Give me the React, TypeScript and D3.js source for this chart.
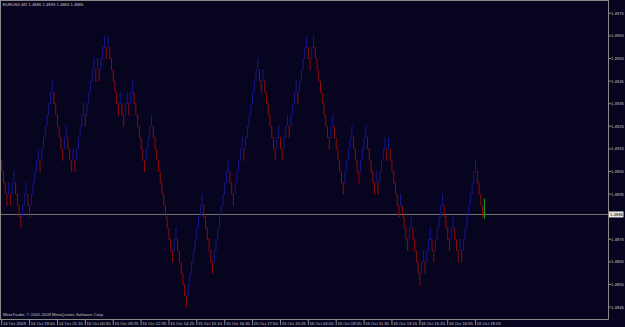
import React from "react";
import * as d3 from "d3";

// ---- data (renko-style bars, box = 5 pips) ----
const symbolTitle = "EURUSD,M2";
const liveBar = { open: 1.4886, high: 1.4893, low: 1.4884, close: 1.4886 };
const boxSize = 0.0005;
const firstOpen = 1.491;
const closes = [
  1.4905, 1.49, 1.4895, 1.489, 1.49, 1.489, 1.49, 1.4905, 1.4895, 1.489,
  1.4885, 1.488, 1.489, 1.4895, 1.49, 1.489, 1.4885, 1.4895, 1.49, 1.4905,
  1.491, 1.4915, 1.4905, 1.4915, 1.492, 1.4925, 1.493, 1.4935, 1.494, 1.4945,
  1.4935, 1.493, 1.4925, 1.492, 1.4915, 1.491, 1.492, 1.4925, 1.4915, 1.491,
  1.4905, 1.4915, 1.4905, 1.4915, 1.492, 1.4925, 1.493, 1.4935, 1.4925, 1.4935,
  1.494, 1.4945, 1.495, 1.4955, 1.4945, 1.4955, 1.4945, 1.4955, 1.496, 1.4965,
  1.4955, 1.4965, 1.4955, 1.495, 1.4945, 1.494, 1.4935, 1.493, 1.494, 1.493,
  1.4925, 1.4935, 1.494, 1.493, 1.494, 1.4945, 1.4935, 1.493, 1.4925, 1.492,
  1.4915, 1.491, 1.4905, 1.4915, 1.492, 1.4925, 1.493, 1.492, 1.4915, 1.491,
  1.4905, 1.49, 1.4895, 1.489, 1.4885, 1.488, 1.4875, 1.487, 1.4865, 1.4875,
  1.488, 1.487, 1.4865, 1.486, 1.4855, 1.485, 1.4845, 1.4855, 1.486, 1.4865,
  1.487, 1.4875, 1.488, 1.4885, 1.489, 1.4895, 1.4885, 1.488, 1.4875, 1.487,
  1.4865, 1.486, 1.487, 1.4875, 1.488, 1.4885, 1.489, 1.4895, 1.49, 1.4905,
  1.491, 1.49, 1.4895, 1.489, 1.49, 1.4905, 1.491, 1.4915, 1.492, 1.491,
  1.492, 1.4925, 1.493, 1.4935, 1.494, 1.4945, 1.495, 1.4955, 1.4945, 1.494,
  1.495, 1.494, 1.4935, 1.493, 1.4925, 1.492, 1.4915, 1.491, 1.492, 1.4925,
  1.4915, 1.491, 1.492, 1.4925, 1.493, 1.492, 1.493, 1.4935, 1.494, 1.4945,
  1.4935, 1.4945, 1.495, 1.4955, 1.496, 1.4965, 1.4955, 1.495, 1.496, 1.4965,
  1.4955, 1.495, 1.4945, 1.494, 1.4935, 1.493, 1.4925, 1.492, 1.4915, 1.4925,
  1.493, 1.492, 1.4915, 1.491, 1.4905, 1.49, 1.4895, 1.4905, 1.491, 1.4915,
  1.492, 1.4925, 1.4915, 1.491, 1.4905, 1.49, 1.491, 1.4915, 1.492, 1.4925,
  1.4915, 1.491, 1.4905, 1.49, 1.4895, 1.4905, 1.4895, 1.4905, 1.491, 1.4915,
  1.492, 1.491, 1.492, 1.491, 1.4905, 1.49, 1.4895, 1.489, 1.4885, 1.4895,
  1.4885, 1.488, 1.4875, 1.487, 1.488, 1.4885, 1.4875, 1.487, 1.4865, 1.486,
  1.4855, 1.4865, 1.487, 1.486, 1.487, 1.4875, 1.488, 1.487, 1.4865, 1.4875,
  1.488, 1.4885, 1.489, 1.4895, 1.4885, 1.488, 1.4875, 1.487, 1.488, 1.4885,
  1.4875, 1.487, 1.4865, 1.4875, 1.4865, 1.4875, 1.488, 1.4885, 1.489, 1.4895,
  1.49, 1.4905, 1.491, 1.49, 1.4895, 1.489, 1.4885,
];
const priceTicks = [
  1.4975, 1.4965, 1.4955, 1.4945, 1.4935, 1.4925, 1.4915, 1.4905, 1.4895,
  1.4885, 1.4875, 1.4865, 1.4855, 1.4845,
];
const timeLabels = [
  "14 Oct 2009", "14 Oct 19:00", "14 Oct 21:10", "15 Oct 00:50", "15 Oct 09:25",
  "15 Oct 12:35", "15 Oct 14:25", "15 Oct 15:10", "15 Oct 16:30", "15 Oct 17:50",
  "15 Oct 20:25", "16 Oct 04:00", "16 Oct 09:20", "16 Oct 11:30", "16 Oct 13:15",
  "16 Oct 15:20", "16 Oct 16:55", "16 Oct 18:05",
];
const barsPerLabel = 16;
const currentPrice = 1.4886;
const copyright = "MetaTrader, \u00a9 2001-2009 MetaQuotes Software Corp.";

const FONT = "'Liberation Sans', Arial, sans-serif";

function T(props: { x: number; y: number; fill: string; anchor?: string; children: any }) {
  return (
    <text
      transform={`translate(${props.x},${props.y}) scale(0.5)`}
      fontSize={8.4}
      fontFamily={FONT}
      fill={props.fill}
      dominantBaseline="central"
      textAnchor={props.anchor || "start"}
    >
      {props.children}
    </text>
  );
}

export default function App() {
  const width = 625;
  const height = 327;
  const axisX = 608.5;
  const axisY = 319.5;
  const n = closes.length + 1;

  const x = d3.scaleLinear().domain([0, n - 1]).range([1.7, 484.3]);
  const y = d3.scaleLinear().domain([1.4845, 1.4975]).range([307.1, 13.3]);

  const bars = closes.map((c, i) => {
    const prev = i === 0 ? null : closes[i - 1];
    const up = prev === null ? c > firstOpen : c > prev;
    const o = up ? c - boxSize : c + boxSize;
    return { i, o, c, h: Math.max(o, c), l: Math.min(o, c), up };
  });

  const barPath = (i: number, o: number, h: number, l: number, c: number) => {
    const xi = x(i);
    return `M${xi},${y(h)}V${y(l)}M${xi - 0.9},${y(o)}H${xi}M${xi},${y(c)}H${xi + 0.9}`;
  };

  const fg = "#8a8a8a";
  const txt = "#c4c4c4";
  const yCur = y(currentPrice);

  return (
    <svg
      width={width}
      height={height}
      style={{ position: "fixed", left: 0, top: 0, display: "block" }}
    >
      <rect x={0} y={0} width={width} height={height} fill="#06041f" />

      {/* current price line */}
      <line x1={0} x2={axisX} y1={yCur} y2={yCur} stroke="#767676" strokeWidth={1} />

      {/* bars */}
      <g fill="none" strokeWidth={1}>
        {bars.map((b) => (
          <path key={b.i} d={barPath(b.i, b.o, b.h, b.l, b.c)} stroke={b.up ? "#17178e" : "#900c0c"} />
        ))}
        <path
          d={barPath(n - 1, liveBar.open, liveBar.high, liveBar.low, liveBar.close)}
          stroke="#10b810"
        />
      </g>

      {/* frame */}
      <line x1={0.5} x2={0.5} y1={0} y2={axisY} stroke={fg} />
      <line x1={0} x2={axisX} y1={0.5} y2={0.5} stroke={fg} />
      <line x1={axisX} x2={axisX} y1={0} y2={axisY} stroke={fg} />
      <line x1={0} x2={axisX} y1={axisY} y2={axisY} stroke={fg} />

      {/* header */}
      <T x={2.7} y={4.6} fill={txt}>
        {`${symbolTitle}  ${liveBar.open.toFixed(4)} ${liveBar.high.toFixed(4)} ${liveBar.low.toFixed(4)} ${liveBar.close.toFixed(4)}`}
      </T>

      {/* copyright */}
      <T x={3} y={314.8} fill={txt}>
        {copyright}
      </T>

      {/* price axis */}
      {priceTicks.map((p) => (
        <g key={p}>
          <line x1={axisX} x2={axisX + 2.5} y1={y(p)} y2={y(p)} stroke={fg} />
          {Math.abs(y(p) - yCur) > 5 && (
            <T x={611} y={y(p)} fill={txt}>
              {p.toFixed(4)}
            </T>
          )}
        </g>
      ))}

      {/* current price label */}
      <rect x={609} y={yCur - 3} width={14.5} height={6} fill="#e8e8e8" />
      <T x={610} y={yCur} fill="#000">
        {currentPrice.toFixed(4)}
      </T>

      {/* time axis */}
      {timeLabels.map((t, k) => {
        const xi = x(k * barsPerLabel);
        return (
          <g key={t}>
            <line x1={xi} x2={xi} y1={axisY} y2={325} stroke={fg} />
            <T x={xi + 1.2} y={323.2} fill={txt}>
              {t}
            </T>
          </g>
        );
      })}
    </svg>
  );
}
